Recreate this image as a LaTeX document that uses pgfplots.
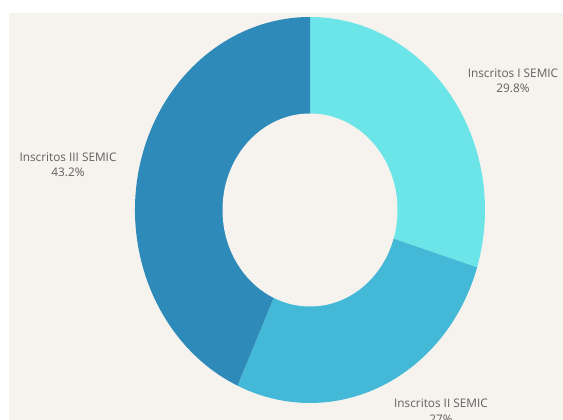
\documentclass[border=0pt]{standalone}
\usepackage{pgfplots}
\usepackage{pgfplotstable}
\pgfplotsset{compat=1.18}
\usepackage{fontspec}
\setmainfont{Open Sans}
\definecolor{bgbeige}{HTML}{F6F3EE}
\definecolor{sliceI}{HTML}{6BE5E8}
\definecolor{sliceII}{HTML}{43B8D7}
\definecolor{sliceIII}{HTML}{2E8BB9}
\definecolor{labelgray}{HTML}{606060}

\pgfplotstableread{
label value
I 29.8
II 27.0
III 43.2
}\piedata
\pgfplotstablegetelem{0}{value}\of\piedata \let\va\pgfplotsretval
\pgfplotstablegetelem{1}{value}\of\piedata \let\vb\pgfplotsretval
\pgfplotstablegetelem{2}{value}\of\piedata \let\vc\pgfplotsretval
\pgfmathsetmacro\aA{90}
\pgfmathsetmacro\aB{\aA-3.6*\va}
\pgfmathsetmacro\aC{\aB-3.6*\vb}
\pgfmathsetmacro\aD{\aC-3.6*\vc}

\begin{document}
\begin{tikzpicture}
\begin{axis}[width=563pt,height=420pt,scale only axis,
  xmin=0,xmax=563,ymin=0,ymax=420,hide axis,clip=false]
\fill[bgbeige] (axis cs:9,0) rectangle (axis cs:563,407);
\fill[sliceI] (axis cs:310,210) -- ++(\aA:175pt and 193pt)
  arc[start angle=\aA,end angle=\aB,x radius=175pt,y radius=193pt] -- cycle;
\fill[sliceII] (axis cs:310,210) -- ++(\aB:175pt and 193pt)
  arc[start angle=\aB,end angle=\aC,x radius=175pt,y radius=193pt] -- cycle;
\fill[sliceIII] (axis cs:310,210) -- ++(\aC:175pt and 193pt)
  arc[start angle=\aC,end angle=\aD,x radius=175pt,y radius=193pt] -- cycle;
\fill[bgbeige] (axis cs:310,210) ellipse[x radius=87.5pt,y radius=96.5pt];
\node[align=center,text=labelgray,font=\fontsize{11.8}{15.5}\selectfont,inner sep=0pt]
  at (axis cs:513,339) {Inscritos I SEMIC\\29.8\%};
\node[align=center,text=labelgray,font=\fontsize{11.8}{15.5}\selectfont,inner sep=0pt]
  at (axis cs:68,255) {Inscritos III SEMIC\\43.2\%};
\node[align=center,text=labelgray,font=\fontsize{11.8}{15.5}\selectfont,inner sep=0pt]
  at (axis cs:441,9) {Inscritos II SEMIC\\27\%};
\end{axis}
\pgfresetboundingbox
\path (current axis.south west) rectangle (current axis.north east);
\end{tikzpicture}
\end{document}
